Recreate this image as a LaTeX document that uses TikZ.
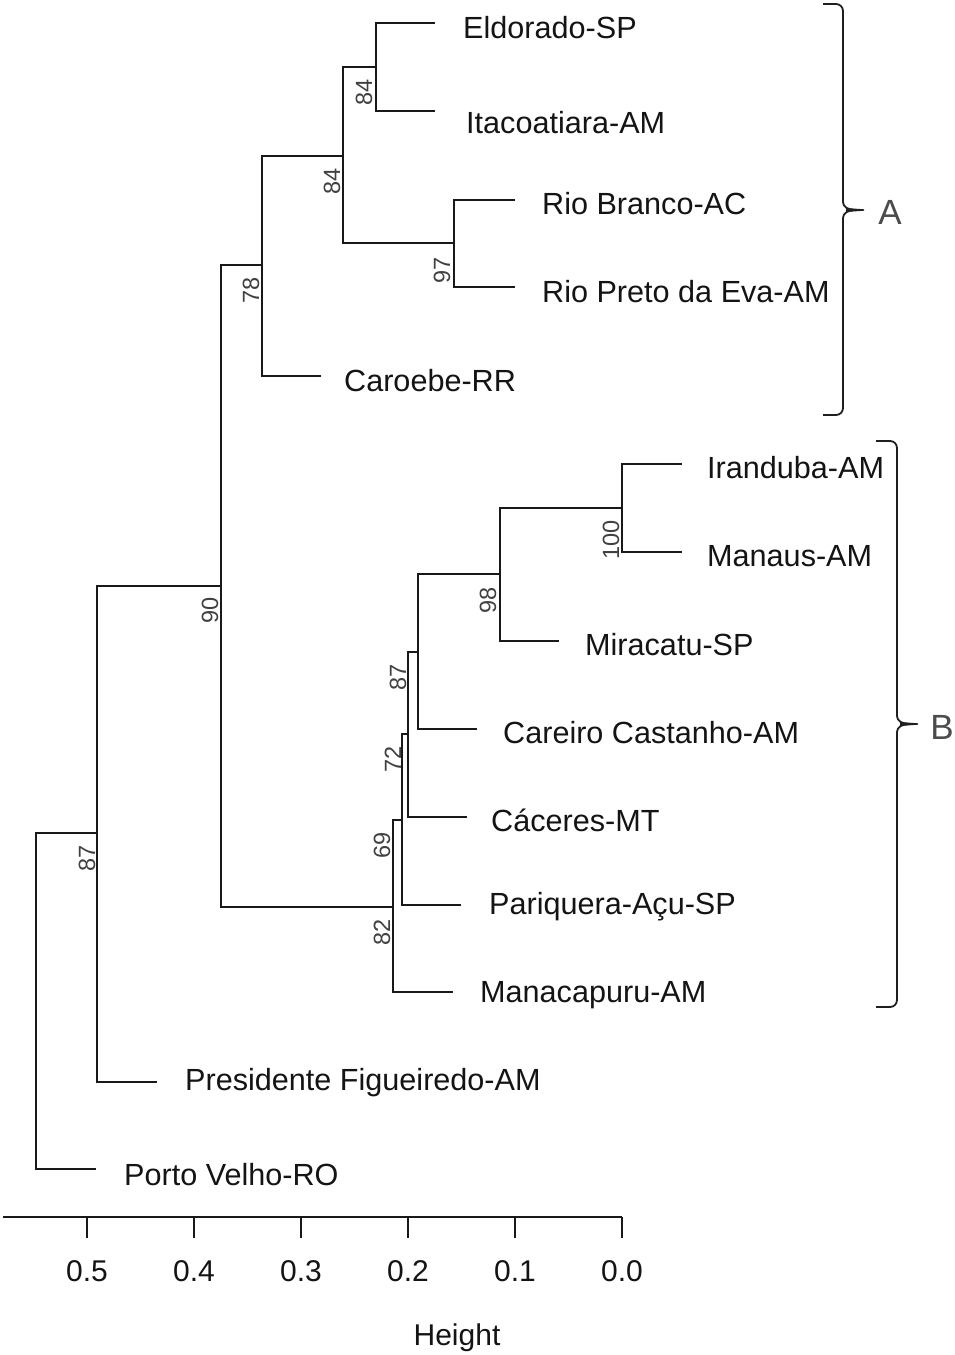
\documentclass[tikz,border=0pt]{standalone}
\usepackage{fontspec}
\setmainfont{Liberation Sans}
\begin{document}
\begin{tikzpicture}[x=1pt,y=-1pt,
  tree/.style={line width=1.8pt, draw=black!90},
  leaf/.style={anchor=base west, inner sep=0pt, font=\fontsize{30.6}{36}\selectfont, text=black!92},
  bs/.style={rotate=90, inner sep=0pt, font=\fontsize{23.5}{27}\selectfont, text=black!75},
  axlbl/.style={inner sep=0pt, font=\fontsize{30}{36}\selectfont, text=black!92},
  grp/.style={inner sep=0pt, font=\fontsize{35}{40}\selectfont, text=black!70},
  brace/.style={line width=1.8pt, draw=black!88}]
\useasboundingbox (0,0) rectangle (955,1355);
\fill[white] (0,0) rectangle (955,1355);

% internal nodes (x, junction y)
\coordinate (root) at (36,1000);
\coordinate (n87)  at (97,833);
\coordinate (n90)  at (221,586);
\coordinate (n78)  at (262,265);
\coordinate (n84a) at (343,156);
\coordinate (n84b) at (376,67);
\coordinate (n97)  at (454,243);
\coordinate (n82)  at (393,907);
\coordinate (n69)  at (402,820);
\coordinate (n72)  at (408,734);
\coordinate (n87b) at (418,652);
\coordinate (n98)  at (500,574);
\coordinate (n100) at (622,508);
% leaf ends
\coordinate (eEld) at (435,23);
\coordinate (eIta) at (435,111);
\coordinate (eRBr) at (515,200);
\coordinate (eRPr) at (515,287);
\coordinate (eCar) at (321,376);
\coordinate (eIra) at (682,464);
\coordinate (eMan) at (682,552);
\coordinate (eMir) at (559,641);
\coordinate (eCCa) at (477,729);
\coordinate (eCac) at (467,817);
\coordinate (ePar) at (461,905);
\coordinate (eMnc) at (453,992);
\coordinate (ePre) at (157,1082);
\coordinate (ePor) at (96,1169);

% edges
\foreach \p/\c in {root/n87, root/ePor, n87/n90, n87/ePre, n90/n78, n90/n82,
  n78/n84a, n78/eCar, n84a/n84b, n84a/n97, n84b/eEld, n84b/eIta, n97/eRBr, n97/eRPr,
  n82/n69, n82/eMnc, n69/n72, n69/ePar, n72/n87b, n72/eCac, n87b/n98, n87b/eCCa,
  n98/n100, n98/eMir, n100/eIra, n100/eMan}
  \draw[tree] (\p) |- (\c);

% leaf labels
\node[leaf] (lEld) at (463,38) {Eldorado-SP};
\node[leaf] (lIta) at (466,133) {Itacoatiara-AM};
\node[leaf] (lRBr) at (542,214) {Rio Branco-AC};
\node[leaf] (lRPr) at (542,302) {Rio Preto da Eva-AM};
\node[leaf] (lCar) at (344,391) {Caroebe-RR};
\node[leaf] (lIra) at (707,478) {Iranduba-AM};
\node[leaf] (lMan) at (707,566) {Manaus-AM};
\node[leaf] (lMir) at (585,655) {Miracatu-SP};
\node[leaf] (lCCa) at (503,743) {Careiro Castanho-AM};
\node[leaf] (lCac) at (491,831) {Cáceres-MT};
\node[leaf] (lPar) at (489,914) {Pariquera-Açu-SP};
\node[leaf] (lMnc) at (480,1002) {Manacapuru-AM};
\node[leaf] (lPre) at (185,1090) {Presidente Figueiredo-AM};
\node[leaf] (lPor) at (124,1185) {Porto Velho-RO};

% bootstrap values
\node[bs] (b84b) at (364,92) {84};
\node[bs] (b84a) at (332,181) {84};
\node[bs] (b97)  at (442,270) {97};
\node[bs] (b78)  at (251,290) {78};
\node[bs] (b90)  at (210,610) {90};
\node[bs] (b87)  at (87,858) {87};
\node[bs] (b100) at (611,540) {100};
\node[bs] (b98)  at (488,600) {98};
\node[bs] (b87b) at (398,677) {87};
\node[bs] (b72)  at (393,759) {72};
\node[bs] (b69)  at (382,845) {69};
\node[bs] (b82)  at (382,932) {82};

% axis
\coordinate (axL) at (3,1217);
\coordinate (axR) at (622,1217);
\draw[tree] (axL) -- (axR);
\foreach \v/\x in {0.5/87, 0.4/194, 0.3/301, 0.2/408, 0.1/515, 0.0/622} {
  \coordinate (tk\x) at (\x,1217);
  \draw[tree] (tk\x) -- ++(0,21);
  \node[axlbl] (tl\x) at (\x,1271) {\v};
}
\node[axlbl] (hgt) at (457,1338) {Height};

% brackets
\draw[brace] (823,4) -- (836,4) to[out=0,in=90] (843,11) -- (843,202)
  .. controls (843,207) and (848,210) .. (856,210);
\draw[brace] (856,210) .. controls (848,210) and (843,213) .. (843,218)
  -- (843,408) to[out=-90,in=0] (836,415) -- (823,415);
\fill[black!88] (846,208) -- (864,209.3) -- (864,210.7) -- (846,212) -- cycle;
\node[grp] (gA) at (890,212) {A};

\draw[brace] (876,441) -- (890,441) to[out=0,in=90] (897,448) -- (897,716)
  .. controls (897,721) and (902,724) .. (910,724);
\draw[brace] (910,724) .. controls (902,724) and (897,727) .. (897,732)
  -- (897,1000) to[out=-90,in=0] (890,1007) -- (876,1007);
\fill[black!88] (900,722) -- (918,723.3) -- (918,724.7) -- (900,726) -- cycle;
\node[grp] (gB) at (942,727) {B};
\end{tikzpicture}
\end{document}
